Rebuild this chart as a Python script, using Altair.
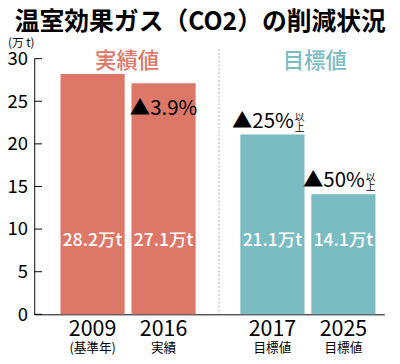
import altair as alt
import pandas as pd

FONT = "Noto Sans CJK JP"

years = ["2009", "2016", "2017", "2025"]
sublabels = ["(基準年)", "実績", "目標値", "目標値"]
groups = ["実績値", "実績値", "目標値", "目標値"]
values = [28.2, 27.1, 21.1, 14.1]
changes = ["", "▲3.9%", "▲25%", "▲50%"]
change_notes = ["", "", "以\n上", "以\n上"]
y_ticks = [0, 5, 10, 15, 20, 25, 30]
group_names = ["実績値", "目標値"]
group_colors = ["#DD7869", "#7ABCC2"]
title_text = "温室効果ガス（CO2）の削減状況"
unit_text = "(万 t)"

df = pd.DataFrame({
    "year": years, "sub": sublabels, "group": groups, "value": values,
    "change": changes, "note": change_notes,
})
df["label"] = [f"{v}万t" for v in values]

base = alt.Chart(df).transform_window(
    slot="row_number()", groupby=["group"], sort=[alt.SortField("year")]
)

yscale = alt.Scale(domain=[0, 30], nice=False, zero=True)
y_axis = alt.Axis(values=y_ticks, ticks=False, grid=False, labelFontSize=19, labelPadding=7,
                  labelColor="black", domainColor="black", title=None, labelFont=FONT)
x_enc = alt.X(
    "group:N",
    scale=alt.Scale(domain=group_names, paddingInner=0.2486, paddingOuter=0.0973, align=0.75),
    axis=alt.Axis(labels=False, ticks=False, title=None, domainColor="black", domainWidth=1),
)
xo = alt.XOffset("slot:O", scale=alt.Scale(paddingInner=0.0959, paddingOuter=0))
y_enc = alt.Y("value:Q", scale=yscale, axis=y_axis)
color_enc = alt.Color("group:N", scale=alt.Scale(domain=group_names, range=group_colors), legend=None)

bars = base.mark_bar().encode(x=x_enc, xOffset=xo, y=y_enc, color=color_enc)

xg = alt.X("group:N")
xs = alt.XOffset("slot:O")

value_labels = base.mark_text(color="white", fontSize=18, baseline="middle", font=FONT,
                              fontWeight=500).encode(
    x=xg, xOffset=xs, y=alt.value(188), text="label:N")

change_2016 = base.transform_filter(alt.datum.year == "2016").mark_text(
    fontSize=21, baseline="middle", color="black", font=FONT).encode(
    x=xg, xOffset=xs, y=alt.value(52), text="change:N")

targets = base.transform_filter(alt.FieldOneOfPredicate(field="year", oneOf=["2017", "2025"]))

change_target = targets.mark_text(
    fontSize=21, baseline="alphabetic", align="right", dx=22, dy=-7, color="black", font=FONT).encode(
    x=xg, xOffset=xs, y=alt.Y("value:Q", scale=yscale, axis=y_axis), text="change:N")

change_note = targets.mark_text(
    fontSize=10, baseline="bottom", align="left", dx=23, dy=-12, lineBreak="\n", lineHeight=10,
    color="black", font=FONT).encode(
    x=xg, xOffset=xs, y=alt.Y("value:Q", scale=yscale, axis=y_axis), text="note:N")

year_labels = base.mark_text(fontSize=22, baseline="middle", color="black", font=FONT).encode(
    x=xg, xOffset=xs, y=alt.value(278), text="year:N")

sub_labels = base.mark_text(fontSize=13, baseline="middle", color="black", font=FONT).encode(
    x=xg, xOffset=xs, y=alt.value(298), text="sub:N")

header_left = base.transform_filter(alt.datum.year == "2009").mark_text(
    fontSize=22, baseline="middle", dx=-1, font=FONT, fontWeight=500).encode(
    x=xg, y=alt.value(3), text="group:N", color=color_enc)
header_right = base.transform_filter(alt.datum.year == "2017").mark_text(
    fontSize=22, baseline="middle", dx=7, font=FONT, fontWeight=500).encode(
    x=xg, y=alt.value(3), text="group:N", color=color_enc)

tick_rules = alt.Chart(pd.DataFrame({"value": y_ticks})).mark_rule(color="black", strokeWidth=1).encode(
    y=alt.Y("value:Q", scale=yscale, axis=y_axis), x=alt.value(0), x2=alt.value(8))

one = pd.DataFrame({"a": [0]})
separator = alt.Chart(one).mark_rule(color="#aaaaaa", strokeDash=[2, 2], strokeWidth=1).encode(
    x=alt.value(190), y=alt.value(-10), y2=alt.value(263))

title = alt.Chart(one).mark_text(fontSize=25.5, align="left", baseline="middle", color="black",
                                 font=FONT, fontWeight=600).encode(
    x=alt.value(-20), y=alt.value(-37), text=alt.value(title_text))
unit = alt.Chart(one).mark_text(fontSize=12, align="left", baseline="middle", color="black", font=FONT).encode(
    x=alt.value(-27), y=alt.value(-16), text=alt.value(unit_text))

chart = alt.layer(
    bars, separator, tick_rules, value_labels, change_2016, change_target, change_note,
    year_labels, sub_labels, header_left, header_right, title, unit,
).properties(
    width=360, height=263, autosize="none",
    padding={"left": 27, "top": 47, "right": 8, "bottom": 46},
).configure_view(stroke=None)

chart.save("out.html", embed_options={"renderer": "svg", "actions": False})
